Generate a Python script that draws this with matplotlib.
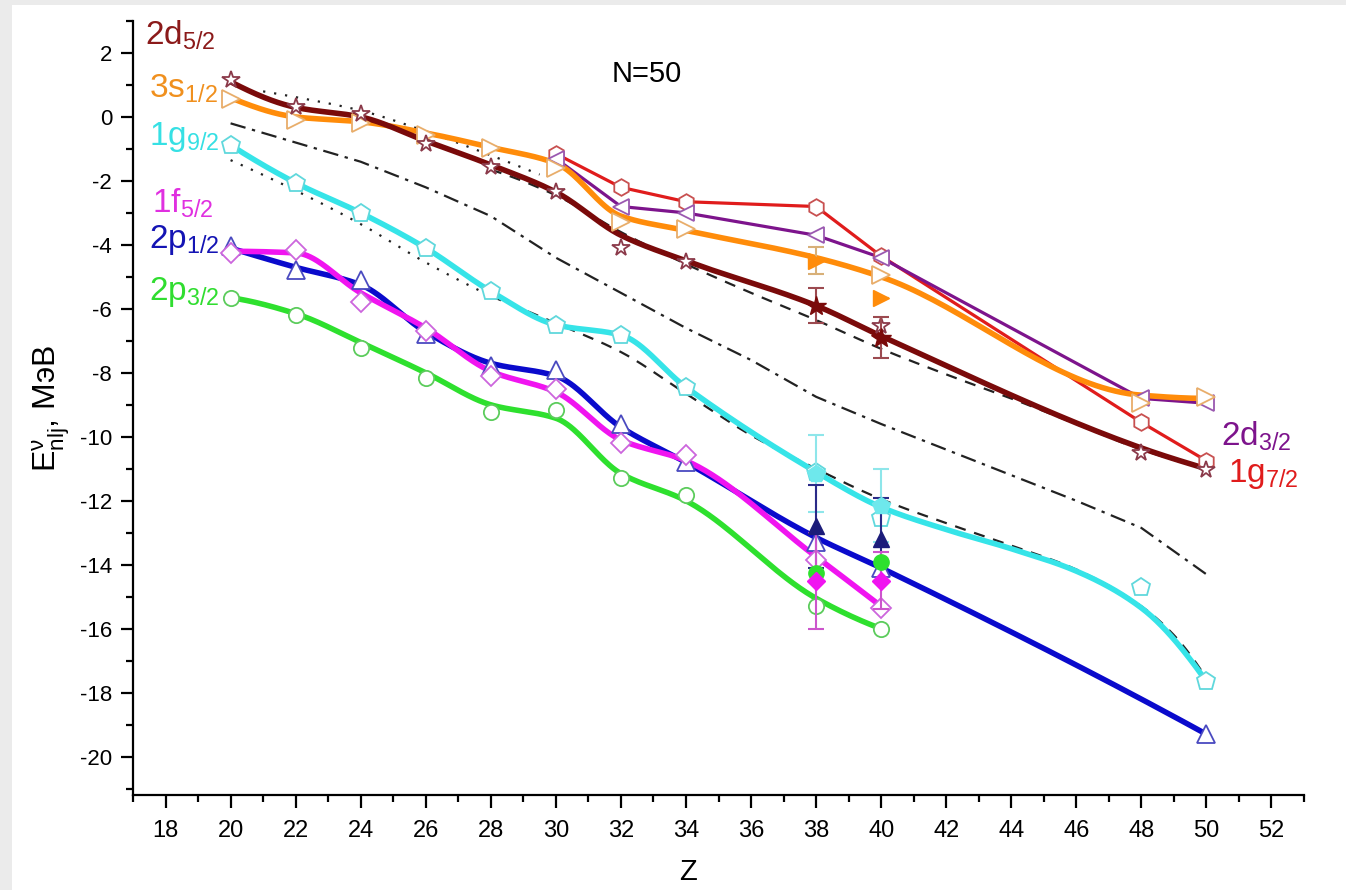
import numpy as np
import matplotlib
matplotlib.use("Agg")
import matplotlib.pyplot as plt
from matplotlib.patches import Rectangle

plt.rcParams['font.family'] = ['Liberation Sans', 'DejaVu Sans']
plt.rcParams['mathtext.fontset'] = 'custom'
plt.rcParams['mathtext.rm'] = 'Liberation Sans'
plt.rcParams['mathtext.it'] = 'Liberation Sans:italic'
plt.rcParams['mathtext.bf'] = 'Liberation Sans:bold'
plt.rcParams['axes.unicode_minus'] = False

# ---------------- data: neutron single-particle energies, N = 50 ----------------
# 2d5/2
d52_z = [20, 22, 24, 26, 28, 30, 32, 34, 40, 48, 50]
d52_e = [1.15, 0.3, 0.1, -0.85, -1.55, -2.35, -4.1, -4.55, -6.55, -10.5, -11.05]
d52_curve_z = [20, 22, 24, 26, 28, 30, 32, 34, 38, 40, 48, 50]
d52_curve_e = [1.1, 0.3, 0.0, -0.75, -1.5, -2.35, -3.7, -4.5, -5.9, -6.85, -10.35, -11.0]
d52_exp_z = [38, 40]
d52_exp_e = [-5.9, -6.9]
d52_exp_err = [0.55, 0.65]

# 3s1/2
s12_z = [20, 22, 24, 26, 28, 30, 32, 34, 40, 48, 50]
s12_e = [0.55, -0.1, -0.2, -0.57, -0.98, -1.6, -3.3, -3.5, -4.95, -8.95, -8.75]
s12_curve_z = [20, 22, 24, 26, 28, 30, 32, 34, 38, 40, 48, 50]
s12_curve_e = [0.6, 0.0, -0.15, -0.5, -0.95, -1.45, -3.1, -3.55, -4.4, -5.0, -8.7, -8.8]
s12_exp_z = [38, 40]
s12_exp_e = [-4.5, -5.65]
s12_exp_err = [0.42, 0.0]

# 1g9/2
g92_z = [20, 22, 24, 26, 28, 30, 32, 34, 38, 40, 48, 50]
g92_e = [-0.88, -2.06, -3.0, -4.1, -5.45, -6.5, -6.82, -8.45, -11.1, -12.55, -14.7, -17.65]
g92_curve_z = [20, 22, 24, 26, 28, 30, 32, 34, 38, 40, 42, 44, 46, 48, 50]
g92_curve_e = [-0.88, -2.06, -3.0, -4.1, -5.45, -6.5, -6.82, -8.45, -11.1, -12.2,
               -12.9, -13.5, -14.2, -15.35, -17.65]
g92_exp_z = [38, 40]
g92_exp_e = [-11.15, -12.15]
g92_exp_err = [1.2, 1.15]

# 1f5/2
f52_z = [20, 22, 24, 26, 28, 30, 32, 34, 38, 40]
f52_e = [-4.25, -4.15, -5.8, -6.7, -8.1, -8.5, -10.2, -10.58, -13.85, -15.35]
f52_curve_z = [20, 22, 24, 26, 28, 30, 32, 34, 38, 40]
f52_curve_e = [-4.2, -4.25, -5.5, -6.6, -7.95, -8.6, -10.1, -10.75, -13.75, -15.3]
f52_exp_z = [38, 40]
f52_exp_e = [-14.5, -14.5]
f52_exp_err = [1.5, 0.9]

# 2p1/2
p12_z = [20, 22, 24, 26, 28, 30, 32, 34, 38, 40, 50]
p12_e = [-4.05, -4.8, -5.1, -6.8, -7.8, -7.92, -9.6, -10.8, -13.3, -14.1, -19.3]
p12_curve_z = [20, 22, 24, 26, 28, 30, 32, 34, 38, 40, 50]
p12_curve_e = [-4.1, -4.7, -5.25, -6.72, -7.7, -8.1, -9.7, -10.8, -13.15, -14.1, -19.3]
p12_exp_z = [38, 40]
p12_exp_e = [-12.8, -13.2]
p12_exp_err = [1.3, 1.3]

# 2p3/2
p32_z = [20, 22, 24, 26, 28, 30, 32, 34, 38, 40]
p32_e = [-5.67, -6.2, -7.23, -8.17, -9.23, -9.17, -11.3, -11.83, -15.3, -16.0]
p32_curve_z = [20, 22, 24, 26, 28, 30, 32, 34, 38, 40]
p32_curve_e = [-5.65, -6.15, -7.05, -8.0, -9.0, -9.42, -11.15, -12.0, -15.05, -16.0]
p32_exp_z = [38, 40]
p32_exp_e = [-14.25, -13.9]

# 2d3/2
d32_z = [30, 32, 34, 38, 40, 48, 50]
d32_e = [-1.3, -2.8, -3.0, -3.7, -4.4, -8.8, -8.95]

# 1g7/2
g72_z = [30, 32, 34, 38, 40, 48, 50]
g72_e = [-1.15, -2.2, -2.65, -2.8, -4.35, -9.55, -10.75]

# reference curves
ref_dot_up_z = [21, 22, 24, 26, 28, 29.5]
ref_dot_up_e = [0.8, 0.62, 0.2, -0.45, -1.2, -1.8]
ref_dash_up_z = [28, 30, 32, 34, 36, 38, 40, 42, 44, 46, 48, 50]
ref_dash_up_e = [-1.65, -2.45, -3.6, -4.6, -5.5, -6.35, -7.25, -8.05, -8.8, -9.6, -10.4, -11.0]
ref_dashdot_z = [20, 22, 24, 26, 28, 30, 32, 34, 36, 38, 40, 42, 44, 46, 48, 50]
ref_dashdot_e = [-0.2, -0.8, -1.4, -2.2, -3.1, -4.4, -5.5, -6.6, -7.6, -8.75, -9.6,
                 -10.4, -11.2, -12.0, -12.85, -14.3]
ref_dot_low_z = [20, 22, 24, 26, 28]
ref_dot_low_e = [-1.35, -2.3, -3.35, -4.55, -5.6]
ref_dash_low_z = [28, 30, 32, 34, 36, 38, 40, 42, 44, 46, 48, 49, 50]
ref_dash_low_e = [-5.6, -6.45, -7.35, -8.65, -9.95, -11.0, -11.95, -12.7, -13.4, -14.15,
                  -15.3, -16.2, -17.55]

x_ticks = list(range(18, 53, 2))
y_ticks = list(range(-20, 3, 2))


def smooth(x, y, n=40):
    """Monotone piecewise-cubic (PCHIP) curve through the given nodes."""
    x = np.asarray(x, float)
    y = np.asarray(y, float)
    h = np.diff(x)
    d = np.diff(y) / h
    m = np.zeros_like(y)
    for k in range(1, len(x) - 1):
        if d[k - 1] * d[k] > 0:
            w1 = 2 * h[k] + h[k - 1]
            w2 = h[k] + 2 * h[k - 1]
            m[k] = (w1 + w2) / (w1 / d[k - 1] + w2 / d[k])

    def end(h0, h1, d0, d1):
        mm = ((2 * h0 + h1) * d0 - h0 * d1) / (h0 + h1)
        if np.sign(mm) != np.sign(d0):
            mm = 0.0
        elif np.sign(d0) != np.sign(d1) and abs(mm) > abs(3 * d0):
            mm = 3 * d0
        return mm

    if len(x) > 2:
        m[0] = end(h[0], h[1], d[0], d[1])
        m[-1] = end(h[-1], h[-2], d[-1], d[-2])
    else:
        m[:] = d[0]
    xs, ys = [], []
    for k in range(len(h)):
        t = np.linspace(0, 1, n, endpoint=(k == len(h) - 1))
        h00 = 2 * t**3 - 3 * t**2 + 1
        h10 = t**3 - 2 * t**2 + t
        h01 = -2 * t**3 + 3 * t**2
        h11 = t**3 - t**2
        xs.append(x[k] + t * h[k])
        ys.append(h00 * y[k] + h10 * h[k] * m[k] + h01 * y[k + 1] + h11 * h[k] * m[k + 1])
    return np.concatenate(xs), np.concatenate(ys)


fig = plt.figure(figsize=(13.46, 8.90), dpi=100, facecolor='#ebebeb')
fig.patches.append(Rectangle((12 / 1346, 0), 1 - 12 / 1346, 1 - 5 / 890,
                             transform=fig.transFigure, facecolor='white',
                             edgecolor='none', zorder=-10))
ax = fig.add_axes([133 / 1346, 1 - 795 / 890, (1304 - 133) / 1346, (795 - 21) / 890])
ax.set_facecolor('none')

# reference curves
ax.plot(*smooth(ref_dot_up_z, ref_dot_up_e), color='#222222', lw=1.6, ls=(0, (1, 4)), zorder=2)
ax.plot(*smooth(ref_dash_up_z, ref_dash_up_e), color='#222222', lw=1.6, ls=(0, (5, 4)), zorder=2)
ax.plot(ref_dashdot_z, ref_dashdot_e, color='#222222', lw=1.6, ls=(0, (7, 3, 1.5, 3)), zorder=2)
ax.plot(*smooth(ref_dot_low_z, ref_dot_low_e), color='#222222', lw=1.6, ls=(0, (1, 4)), zorder=2)
ax.plot(*smooth(ref_dash_low_z, ref_dash_low_e), color='#222222', lw=1.6, ls=(0, (5, 4)), zorder=2)

# thin straight lines
ax.plot(g72_z, g72_e, color='#e01c1c', lw=2.3, zorder=3)
ax.plot(d32_z, d32_e, color='#7d148c', lw=2.3, zorder=3)

# thick smooth lines
thick = [
    (p32_curve_z, p32_curve_e, '#2ee02e'),
    (p12_curve_z, p12_curve_e, '#0a0acc'),
    (f52_curve_z, f52_curve_e, '#f014f0'),
    (g92_curve_z, g92_curve_e, '#36e4e8'),
    (s12_curve_z, s12_curve_e, '#ff8c0a'),
    (d52_curve_z, d52_curve_e, '#7a0a0a'),
]
for cz, ce, col in thick:
    ax.plot(*smooth(cz, ce), color=col, lw=4.0, solid_capstyle='round', zorder=4)

# open markers (calculated values)
open_sets = [
    (g72_z, g72_e, 'h', 12, '#c85050'),
    (d32_z, d32_e, '<', 12, '#9a58b0'),
    (p32_z, p32_e, 'o', 11, '#5ccc5c'),
    (p12_z, p12_e, '^', 13, '#4a4ac0'),
    (f52_z, f52_e, 'D', 10, '#cc66dd'),
    (g92_z, g92_e, 'p', 13.5, '#60d8dc'),
    (s12_z, s12_e, '>', 13, '#e8ad6a'),
    (d52_z, d52_e, '*', 13, '#8b3a4a'),
]
for z, e, mk, ms, col in open_sets:
    ax.plot(z, e, ls='none', marker=mk, ms=ms, mfc='white', mec=col, mew=1.3, zorder=5)

# experimental values with uncertainties
ax.errorbar(g92_exp_z, g92_exp_e, yerr=g92_exp_err, fmt='none', ecolor='#8ee6ea',
            elinewidth=1.5, capsize=6, capthick=1.5, zorder=6)
ax.errorbar(p12_exp_z, p12_exp_e, yerr=p12_exp_err, fmt='none', ecolor='#2a2a88',
            elinewidth=1.5, capsize=6, capthick=1.5, zorder=6)
ax.errorbar(f52_exp_z, f52_exp_e, yerr=f52_exp_err, fmt='none', ecolor='#cc55cc',
            elinewidth=1.5, capsize=6, capthick=1.5, zorder=6)
ax.errorbar(d52_exp_z, d52_exp_e, yerr=d52_exp_err, fmt='none', ecolor='#9c4a50',
            elinewidth=1.5, capsize=6, capthick=1.5, zorder=6)
ax.errorbar(s12_exp_z, s12_exp_e, yerr=s12_exp_err, fmt='none', ecolor='#d8b078',
            elinewidth=1.5, capsize=6, capthick=1.5, zorder=6)

ax.plot(g92_exp_z, g92_exp_e, ls='none', marker='p', ms=13, color='#6ee8ec', zorder=7)
ax.plot(p12_exp_z, p12_exp_e, ls='none', marker='^', ms=12, color='#1c1c7a', zorder=7)
ax.plot(p32_exp_z, p32_exp_e, ls='none', marker='o', ms=11, color='#2ee02e', zorder=7)
ax.plot(f52_exp_z, f52_exp_e, ls='none', marker='D', ms=9.5, color='#f014f0', zorder=7)
ax.plot(s12_exp_z, s12_exp_e, ls='none', marker='>', ms=12, color='#ff8c0a', zorder=7)
ax.plot(d52_exp_z, d52_exp_e, ls='none', marker='*', ms=15, color='#7a0a0a', zorder=7)

# axes styling
ax.set_xlim(17, 53)
ax.set_ylim(-21.2, 3.0)
for side in ('top', 'right'):
    ax.spines[side].set_visible(False)
for side in ('left', 'bottom'):
    ax.spines[side].set_linewidth(1.6)
ax.set_xticks(x_ticks)
ax.set_xticks(list(range(17, 54, 2)), minor=True)
ax.set_yticks(y_ticks)
ax.set_yticks(list(range(-21, 4, 2)), minor=True)
ax.tick_params(which='major', direction='out', length=9, width=1.6, pad=6)
ax.tick_params(which='minor', direction='out', length=5, width=1.6)
ax.tick_params(axis='y', which='major', labelsize=16)
ax.tick_params(axis='x', which='major', labelsize=17, pad=9)

ax.set_xlabel('Z', fontsize=21)
ax.xaxis.set_label_coords(0.474, -0.082)
ax.set_ylabel(r'$\mathregular{E^{\nu}_{nlj}}$, МэВ', fontsize=23, labelpad=6)

# orbital labels
labels = [
    (17.38, 2.25, r'$\mathregular{2d_{5/2}}$', '#8b1a1a'),
    (17.48, 0.6, r'$\mathregular{3s_{1/2}}$', '#f0901e'),
    (17.48, -0.88, r'$\mathregular{1g_{9/2}}$', '#36e0e4'),
    (17.57, -3.0, r'$\mathregular{1f_{5/2}}$', '#e030e0'),
    (17.48, -4.1, r'$\mathregular{2p_{1/2}}$', '#1414b4'),
    (17.48, -5.73, r'$\mathregular{2p_{3/2}}$', '#30dd30'),
    (50.46, -10.28, r'$\mathregular{2d_{3/2}}$', '#7d148c'),
    (50.65, -11.42, r'$\mathregular{1g_{7/2}}$', '#e01c1c'),
]
for x, y, s, col in labels:
    ax.text(x, y, s, color=col, fontsize=24, ha='left', va='baseline', zorder=8)

ax.text(31.7, 1.1, 'N=50', fontsize=21, ha='left', va='baseline', color='black')

fig.savefig('out.png', dpi=100, facecolor=fig.get_facecolor())
